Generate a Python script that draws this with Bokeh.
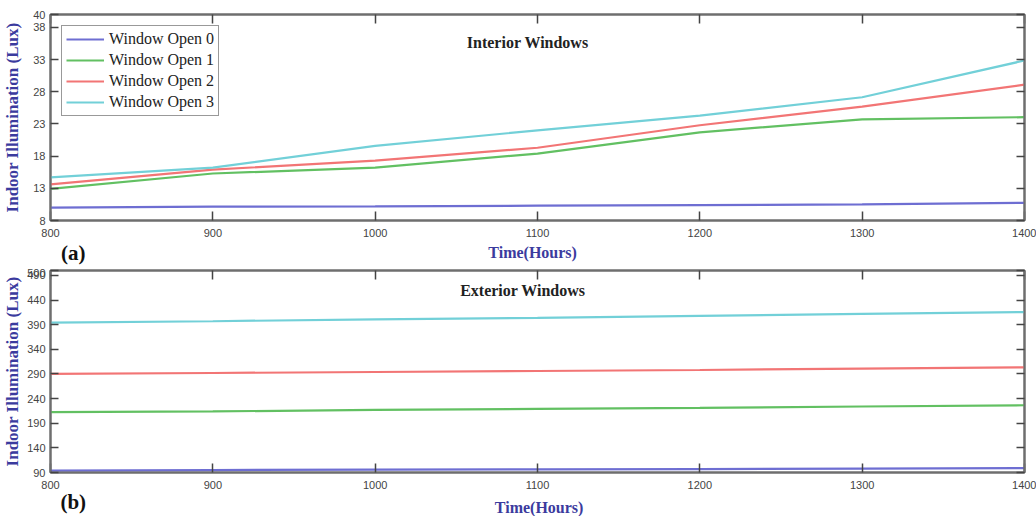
from bokeh.plotting import figure
from bokeh.layouts import column
from bokeh.models import Range1d, LinearAxis, FixedTicker, Label, Legend, LegendItem
from bokeh.core.properties import value
from bokeh.embed import file_html
from bokeh.resources import INLINE

# Time of day (hours, 24h clock)
hours = [800, 900, 1000, 1100, 1200, 1300, 1400]

# Interior windows: indoor illumination (Lux)
int_open0 = [10.0, 10.15, 10.2, 10.3, 10.4, 10.5, 10.75]
int_open1 = [12.9, 15.3, 16.2, 18.4, 21.7, 23.7, 24.05]
int_open2 = [13.6, 15.9, 17.3, 19.3, 22.8, 25.7, 29.1]
int_open3 = [14.7, 16.2, 19.6, 22.0, 24.3, 27.15, 32.85]

# Exterior windows: indoor illumination (Lux)
ext_open0 = [94, 95, 96, 96.5, 97, 98, 99]
ext_open1 = [212.5, 214, 217, 219, 221, 224, 226.5]
ext_open2 = [290, 292, 294, 296, 298, 301, 303.5]
ext_open3 = [394, 397, 401, 404, 408, 412, 415.5]

series_names = ["Window Open 0", "Window Open 1", "Window Open 2", "Window Open 3"]
colors = ["#6e6ed2", "#62c062", "#f27575", "#72d0d8"]

x_ticks = [800, 900, 1000, 1100, 1200, 1300, 1400]
int_y_ticks = [8, 13, 18, 23, 28, 33, 38, 40]
ext_y_ticks = [90, 140, 190, 240, 290, 340, 390, 440, 490, 500]

SERIF = "Liberation Serif"
SANS = "Liberation Sans"
AXIS_BLUE = "#3b3b9e"
FRAME = "#6e6e6e"
W = 1036
LEFT, RIGHT = 50, 12   # shared frame borders of the stacked panels


def style_axis(ax, ticks, tick_len, show_labels=True):
    ax.ticker = FixedTicker(ticks=ticks)
    ax.major_tick_in = tick_len
    ax.major_tick_out = 0
    ax.minor_tick_line_color = None
    ax.axis_line_color = FRAME
    ax.axis_line_width = 2
    ax.major_tick_line_color = "#444444"
    ax.major_tick_line_width = 1.5
    if show_labels:
        ax.major_label_standoff = 5
        ax.major_label_text_font = SANS
        ax.major_label_text_font_size = "11px"
        ax.major_label_text_color = "#444444"
    else:
        # tick marks only, no numbers on the mirrored sides of the box
        ax.major_label_text_color = None
        ax.major_label_text_font_size = "1px"
        ax.major_label_standoff = 0


def make_panel(ys, y_range, y_ticks, height, top_border, bottom_border,
               ylabel_standoff, title_text, title_x, title_y, legend=False):
    p = figure(width=W, height=height, x_range=Range1d(800, 1400),
               y_range=Range1d(*y_range), output_backend="svg",
               toolbar_location=None, min_border_left=LEFT,
               min_border_right=RIGHT, min_border_top=top_border,
               min_border_bottom=bottom_border)
    p.xgrid.visible = False
    p.ygrid.visible = False
    p.outline_line_color = FRAME
    p.outline_line_width = 2
    p.background_fill_color = "white"
    p.border_fill_color = "white"

    style_axis(p.xaxis[0], x_ticks, 9)
    p.xaxis[0].major_label_standoff = 8
    style_axis(p.yaxis[0], y_ticks, 8)
    ya = p.yaxis[0]
    ya.axis_label = "Indoor Illumination (Lux)"
    ya.axis_label_text_font = SERIF
    ya.axis_label_text_font_style = "bold"
    ya.axis_label_text_color = AXIS_BLUE
    ya.axis_label_text_font_size = "17px"
    ya.axis_label_standoff = ylabel_standoff

    right_ax = LinearAxis()
    style_axis(right_ax, y_ticks, 8, show_labels=False)
    p.add_layout(right_ax, "right")
    top_ax = LinearAxis()
    style_axis(top_ax, x_ticks, 9, show_labels=False)
    p.add_layout(top_ax, "above")

    items = []
    for name, col, vals in zip(series_names, colors, ys):
        r = p.line(hours, vals, line_color=col, line_width=2.2)
        items.append(LegendItem(label=name, renderers=[r]))

    if legend:
        lg = Legend(items=items, location="top_left")
        lg.margin = 11
        lg.border_line_color = "#333333"
        lg.border_line_width = 1.5
        lg.label_text_font = SERIF
        lg.label_text_font_size = "16px"
        lg.label_text_color = "#222222"
        lg.glyph_width = 38
        lg.label_standoff = 5
        lg.spacing = 3
        lg.padding = 4
        lg.label_height = 18
        lg.glyph_height = 18
        p.add_layout(lg, "center")

    p.add_layout(Label(x=title_x, y=title_y, text=title_text, text_font=SERIF,
                       text_font_style="bold", text_font_size="16px",
                       text_color="#222222", text_align="center",
                       text_baseline="middle"))
    return p


def caption_strip(height, tag, tag_y, xlabel_x, xlabel_y):
    # Row under a panel: panel tag on the left, x-axis title in the middle.
    # Shares the panels' hour scale so both texts sit under the frame.
    s = figure(width=W, height=height, x_range=Range1d(800, 1400),
               y_range=Range1d(0, height), output_backend="svg",
               toolbar_location=None, x_axis_type=None, y_axis_type=None,
               min_border_left=LEFT, min_border_right=RIGHT,
               min_border_top=0, min_border_bottom=0)
    s.outline_line_color = None
    s.xgrid.visible = False
    s.ygrid.visible = False
    s.text(x=[814], y=[tag_y], text=[tag], text_font=value(SERIF),
           text_font_style="bold", text_font_size="21px", text_color="#111111",
           text_align="center", text_baseline="middle")
    s.text(x=[xlabel_x], y=[xlabel_y], text=["Time(Hours)"],
           text_font=value(SERIF), text_font_style="bold",
           text_font_size="16px", text_color=AXIS_BLUE, text_align="center",
           text_baseline="middle")
    return s


p1 = make_panel([int_open0, int_open1, int_open2, int_open3], (8, 40),
                int_y_ticks, 240, 14, 20, 8, "Interior Windows",
                1094, 35.6, legend=True)
s1 = caption_strip(28, "(a)", 16, 1097, 16)
p2 = make_panel([ext_open0, ext_open1, ext_open2, ext_open3], (90, 500),
                ext_y_ticks, 223, 2, 18, 2, "Exterior Windows",
                1091, 460)
s2 = caption_strip(25, "(b)", 15, 1101, 9)

layout = column(p1, s1, p2, s2, spacing=0)
open("out.html", "w").write(file_html(layout, INLINE))
